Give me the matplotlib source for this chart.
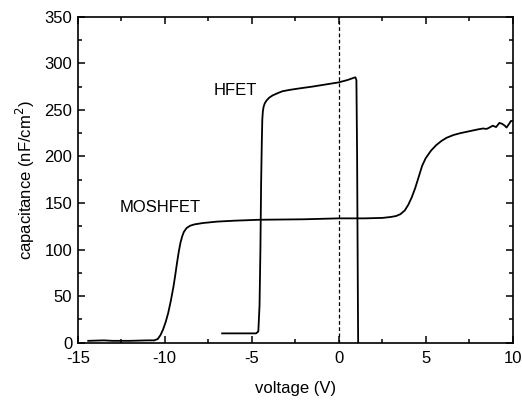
import numpy as np
import matplotlib.pyplot as plt
from matplotlib.ticker import MultipleLocator

plt.rcParams['font.family'] = ['Liberation Sans', 'DejaVu Sans']
plt.rcParams['axes.unicode_minus'] = False

# MOSHFET C-V curve
mos_v = [-14.4, -13.5, -13.0, -12.0, -11.0, -10.6, -10.4, -10.25, -10.1, -9.95, -9.8, -9.65,
         -9.5, -9.4, -9.3, -9.2, -9.1, -9.0, -8.9, -8.75, -8.55, -8.3, -7.8, -7.0, -6.0,
         -4.56, -2.0, 0.0, 1.5, 2.53, 3.0, 3.3, 3.55, 3.8, 4.0, 4.2, 4.4, 4.6, 4.8,
         5.0, 5.3, 5.6, 5.9, 6.2, 6.6, 7.0, 7.5, 8.0, 8.3, 8.5, 8.67, 8.86, 9.05,
         9.24, 9.4, 9.55, 9.65, 9.8, 9.9, 10.0]
mos_c = [2, 2.5, 2, 2, 2.5, 2.5, 4, 8, 14, 22, 32, 45,
         60, 72, 85, 97, 107, 114, 119, 123, 125.5, 127, 128.5, 130, 131,
         132, 132.5, 133.5, 133.5, 134, 135, 136, 138, 142, 148, 156, 166, 178, 190,
         198, 206, 212, 216.5, 220, 223, 225, 227, 229, 230, 229.5, 231, 233, 231.5,
         236, 235, 233, 231, 235, 238, 238]

# HFET C-V curve
hfet_v = [-6.7, -5.5, -4.75, -4.62, -4.55, -4.5, -4.46, -4.42, -4.39, -4.36, -4.32, -4.25,
          -4.15, -4.0, -3.8, -3.5, -3.23, -2.8, -2.27, -1.5, -1.0, 0.0, 0.5, 0.96,
          1.02, 1.06, 1.1, 1.12]
hfet_c = [10, 10, 10, 12, 40, 100, 170, 215, 240, 248, 253, 257,
          260, 263, 265.5, 268, 270, 271.5, 273, 275, 276.5, 279.5, 282, 285,
          282, 200, 60, 0]

fig = plt.figure(figsize=(5.22, 4.01), dpi=100)
ax = fig.add_axes([0.149, 0.1454, 0.833, 0.8129])

ax.plot(mos_v, mos_c, color='black', lw=1.3)
ax.plot(hfet_v, hfet_c, color='black', lw=1.3)
ax.axvline(0, color='black', lw=0.9, ls=(0, (3, 2)))

ax.text(-5.94, 270.6, 'HFET', fontsize=12, ha='center', va='center')
ax.text(-10.26, 145.4, 'MOSHFET', fontsize=12, ha='center', va='center')

ax.set_xlim(-15, 10)
ax.set_ylim(0, 350)
ax.xaxis.set_major_locator(MultipleLocator(5))
ax.xaxis.set_minor_locator(MultipleLocator(2.5))
ax.yaxis.set_major_locator(MultipleLocator(50))
ax.yaxis.set_minor_locator(MultipleLocator(25))
ax.tick_params(which='both', direction='in', top=True, right=True, labelsize=12)
ax.tick_params(axis='x', pad=6)
ax.tick_params(axis='y', pad=4)
ax.tick_params(which='major', length=5, width=1.1)
ax.tick_params(which='minor', length=3, width=1.1)
for s in ax.spines.values():
    s.set_linewidth(1.2)

ax.set_xlabel('voltage (V)', fontsize=12, labelpad=11)
ax.set_ylabel('capacitance (nF/cm$^2$)', fontsize=12, labelpad=5)

plt.savefig('out.png', dpi=100)
